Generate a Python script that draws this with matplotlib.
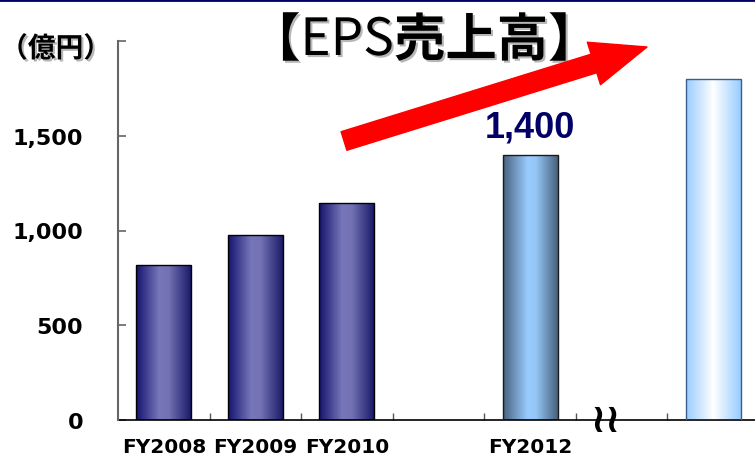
#!/usr/bin/env python
"""EPS sales bar chart (FY2008-FY2012 plus target), recreated with matplotlib."""
import matplotlib
matplotlib.use("Agg")

import matplotlib.pyplot as plt
import matplotlib.patheffects as pe
import numpy as np
from matplotlib.colors import to_rgb
from matplotlib.lines import Line2D

# --- data -------------------------------------------------------------------
SLOTS = ["FY2008", "FY2009", "FY2010", "", "FY2012", "", ""]
VALUES = [820, 975, 1145, None, 1400, None, 1800]
KINDS = ["past", "past", "past", None, "current", None, "target"]
Y_TICKS = [0, 500, 1000, 1500, 2000]
Y_TICK_LABELS = ["0", "500", "1,000", "1,500", ""]
VALUE_LABELS = {4: "1,400"}
BREAK_SLOT = 5
UNIT = "（億円）"
TITLE_PARTS = [("【", "bold"), ("EPS", "normal"), ("売上高】", "bold")]

# --- styles -----------------------------------------------------------------
GRADIENTS = {
    "past": [(0.0, "#14146e"), (0.42, "#7676ba"), (0.6, "#7272b4"), (1.0, "#1a1a6a")],
    "current": [(0.0, "#48627e"), (0.45, "#99ccff"), (0.6, "#94c6f6"), (1.0, "#48627e")],
    "target": [(0.0, "#99ccff"), (0.5, "#ffffff"), (1.0, "#99ccff")],
}
EDGES = {"past": "#000000", "current": "#1a1a1a", "target": "#3a5f8f"}
BAR_WIDTH = 0.6
JP = ["Noto Sans CJK JP", "DejaVu Sans"]
W, H = 755, 460


def gradient(stops, n=128):
    pos = [s[0] for s in stops]
    cols = np.array([to_rgb(s[1]) for s in stops])
    xs = np.linspace(0, 1, n)
    rgb = np.stack([np.interp(xs, pos, cols[:, i]) for i in range(3)], axis=-1)
    return rgb[np.newaxis, :, :]


fig = plt.figure(figsize=(W / 100, H / 100), dpi=100)
ax = fig.add_axes([118 / W, 39 / H, 641 / W, 379 / H])

for idx, (val, kind) in enumerate(zip(VALUES, KINDS)):
    if val is None:
        continue
    bar = ax.bar(idx, val, BAR_WIDTH, facecolor="none", edgecolor=EDGES[kind],
                 linewidth=1.0, zorder=3)[0]
    x0 = bar.get_x()
    img = ax.imshow(gradient(GRADIENTS[kind]), aspect="auto", zorder=2,
                    extent=(x0, x0 + bar.get_width(), 0, bar.get_height()))
    img.set_clip_path(bar)

for idx, text in VALUE_LABELS.items():
    ax.annotate(text, xy=(idx, VALUES[idx]), xytext=(0, 7), textcoords="offset points",
                ha="center", va="bottom", fontsize=26, fontweight="bold",
                color="#000066", family="Liberation Sans")

ax.set_xlim(-0.5, len(SLOTS) - 0.5)
ax.set_ylim(Y_TICKS[0], Y_TICKS[-1])

# axes styling
for side in ("top", "right"):
    ax.spines[side].set_visible(False)
ax.spines["left"].set_color("#666666")
ax.spines["left"].set_linewidth(1.5)
ax.spines["bottom"].set_color("#000000")
ax.spines["bottom"].set_linewidth(1.2)
ax.spines["left"].set_zorder(4)

ax.set_yticks(Y_TICKS)
ax.set_yticklabels(Y_TICK_LABELS, fontsize=16, fontweight="bold", family="DejaVu Sans")
ax.tick_params(axis="y", direction="in", length=6, width=1.2, color="#666666", pad=25)

ax.set_xticks(np.arange(len(SLOTS) - 1) + 0.5)
ax.set_xticklabels([])
ax.tick_params(axis="x", which="major", direction="in", length=5, width=1, color="#555555")
ax.set_xticks(np.arange(len(SLOTS)), minor=True)
ax.set_xticklabels(SLOTS, minor=True, fontsize=14.5, fontweight="bold", family="DejaVu Sans")
ax.tick_params(axis="x", which="minor", length=0, pad=12)

# axis break mark
ax.text(BREAK_SLOT - 0.17, 0, "≀≀", ha="center", va="center", fontsize=29,
        fontweight="bold", family="DejaVu Sans", clip_on=False, zorder=5)

shadow = [pe.SimplePatchShadow(offset=(1.5, -1.5), shadow_rgbFace="#888888", alpha=0.6),
          pe.Normal()]

# unit label
fig.text(0, 1 - 50 / H, UNIT, ha="left", va="center", fontsize=20,
         fontweight="bold", family=JP, path_effects=shadow)

# title, drawn piece by piece so the weights can differ
last = None
for text, weight in TITLE_PARTS:
    kw = dict(fontsize=37, fontweight=weight, family=JP, va="bottom", ha="left",
              path_effects=shadow)
    if last is None:
        last = fig.text(249 / W, 1 - 68 / H, text, **kw)
    else:
        last = ax.annotate(text, xy=(1, 0), xycoords=last, annotation_clip=False, **kw)

# red growth arrow
ax.annotate("", xy=(647, H - 48), xycoords="figure pixels",
            xytext=(344, H - 142), textcoords="figure pixels",
            arrowprops=dict(arrowstyle="simple,head_length=40,head_width=32,tail_width=14",
                            mutation_scale=1, color="#ff0000", shrinkA=0, shrinkB=0))

# navy rule along the top edge
fig.add_artist(Line2D([0, 1], [1 - 1 / H, 1 - 1 / H], transform=fig.transFigure,
                      color="#000066", linewidth=2))

fig.savefig("out.png", dpi=100)
